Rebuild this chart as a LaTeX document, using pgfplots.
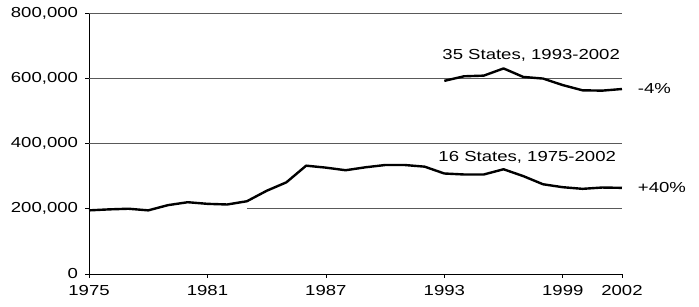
\documentclass[border=0pt]{standalone}
\usepackage{fontspec}
\setmainfont[FakeStretch=1.28]{Liberation Sans}
\usepackage{pgfplots}
\pgfplotsset{compat=1.18}
\begin{document}
\fontsize{14.5}{17}\selectfont
\begin{tikzpicture}
\begin{axis}[
  scale only axis, width=533pt, height=261pt,
  xmin=1975, xmax=2002, ymin=0, ymax=800000,
  axis lines=left, axis line style={-, black, line width=0.9pt},
  xtick={1975,1981,1987,1993,1999,2002},
  xticklabels={1975,1981,1987,1993,1999,2002},
  ytick={0,200000,400000,600000,800000},
  yticklabels={0,{200,000},{400,000},{600,000},{800,000}},
  extra y ticks={400000,600000,800000},
  extra y tick labels={},
  extra y tick style={grid=major, major tick length=0pt},
  tick align=outside, major tick length=4pt,
  tick style={black, line width=0.7pt},
  grid style={black!65, line width=0.8pt},
  scaled y ticks=false,
  xticklabel style={yshift=-2pt},
  yticklabel style={xshift=-2pt},
  tick label style={font=\fontsize{14.5}{17}\selectfont},
  clip=false,
]
\addplot[black!65, line width=0.8pt, forget plot] coordinates {(1983,200000)(2002,200000)};
\addplot[black, line width=2.4pt, line join=round] coordinates {
(1975,195000)(1976,198000)(1977,200000)(1978,195000)(1979,211000)(1980,220000)
(1981,215000)(1982,213000)(1983,223000)(1984,255000)(1985,281000)(1986,332000)
(1987,326000)(1988,318000)(1989,327000)(1990,334000)(1991,334000)(1992,329000)
(1993,308000)(1994,305000)(1995,305000)(1996,321000)(1997,300000)(1998,275000)
(1999,266000)(2000,261000)(2001,265000)(2002,264000)};
\addplot[black, line width=2.4pt, line join=round] coordinates {
(1993,592000)(1994,606000)(1995,608000)(1996,630000)(1997,604000)(1998,599000)
(1999,579000)(2000,563000)(2001,562000)(2002,567000)};
\node at (axis cs:1997.4,671000) {35 States, 1993-2002};
\node at (axis cs:1997.2,358000) {16 States, 1975-2002};
\node[anchor=west, inner sep=0pt] at (axis cs:2002.8,570000) {-4\%};
\node[anchor=west, inner sep=0pt] at (axis cs:2002.8,266000) {+40\%};
\path (rel axis cs:-0.167,-0.1264) rectangle (rel axis cs:1.1445,1.0498);
\end{axis}
\end{tikzpicture}
\end{document}
